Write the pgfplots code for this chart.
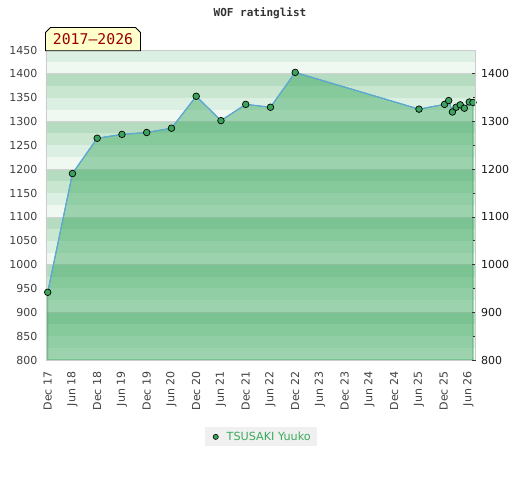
\documentclass[border=0pt]{standalone}
\usepackage{pgfplots}
\pgfplotsset{compat=1.18}
\usepackage{pgfplotstable}
\usepackage{fontspec}
\setmainfont{DejaVu Sans}
\newfontfamily\monofont{DejaVu Sans Mono}
\definecolor{s0}{HTML}{F0F8F2}
\definecolor{s1}{HTML}{DCEFE3}
\definecolor{s2}{HTML}{C8E6D0}
\definecolor{s3}{HTML}{B5DCC0}
\definecolor{gridgrey}{HTML}{D2D2D2}
\definecolor{areagreen}{HTML}{33A458}
\definecolor{edgegreen}{HTML}{3BA55D}
\definecolor{markgreen}{HTML}{3AA35C}
\definecolor{lineblue}{HTML}{5FA6DA}
\definecolor{legendgreen}{HTML}{3BAA5E}
\definecolor{labelyellow}{HTML}{FFFFCC}
\definecolor{darkred}{HTML}{990000}

\pgfplotstableread{
m r
0 942
6 1191
12 1265
18 1273
24 1277
30 1286
36 1353
42 1302
48 1336
54 1330
60 1403
90 1326
96.2 1336
97.2 1344
98.1 1320
99.0 1330
100.0 1335
101.0 1328
102.2 1341
103.1 1340
}\ratings

\begin{document}
\begin{tikzpicture}
\path (0,0) rectangle (520pt,480pt);
\node[font=\monofont\bfseries\fontsize{11}{13}\selectfont, text=black!80] at (260pt,467pt) {WOF ratinglist};
\begin{axis}[
  at={(46pt,120pt)}, anchor=south west, scale only axis,
  width=429.5pt, height=310pt,
  xmin=-0.41, xmax=103.7, ymin=800, ymax=1450,
  xtick={0,6,...,102},
  xticklabels={Dec 17,Jun 18,Dec 18,Jun 19,Dec 19,Jun 20,Dec 20,Jun 21,Dec 21,Jun 22,Dec 22,Jun 23,Dec 23,Jun 24,Dec 24,Jun 25,Dec 25,Jun 26},
  xticklabel style={rotate=90, anchor=east, font=\fontsize{11}{12}\selectfont, text=black!75},
  xticklabel shift=8pt,
  ytick={800,850,...,1450},
  yticklabel style={font=\fontsize{11}{12}\selectfont, text=black!75},
  yticklabel shift=5pt,
  major tick length=0pt,
  axis line style={draw=black!20},
  /pgf/number format/assume math mode=true,
  /pgf/number format/1000 sep={},
  scaled y ticks=false,
  axis on top,
  legend style={at={(0.5,-0.248)}, anchor=center, fill=black!6, draw=none,
    font=\fontsize{11.2}{13}\selectfont, text=legendgreen, inner xsep=4pt, inner ysep=2.5pt},
]
\pgfplotsforeachungrouped \k in {800,900,...,1400}{%
  \pgfmathtruncatemacro\ka{\k+25}%
  \pgfmathtruncatemacro\kb{\k+50}%
  \pgfmathtruncatemacro\kc{\k+75}%
  \pgfmathtruncatemacro\kd{\k+100}%
  \edef\tmp{%
    \noexpand\fill[s0] (axis cs:-5,\k) rectangle (axis cs:110,\ka);
    \noexpand\fill[s1] (axis cs:-5,\ka) rectangle (axis cs:110,\kb);
    \noexpand\fill[s2] (axis cs:-5,\kb) rectangle (axis cs:110,\kc);
    \noexpand\fill[s3] (axis cs:-5,\kc) rectangle (axis cs:110,\kd);
    \noexpand\draw[gridgrey, line width=0.8pt] (axis cs:-5,\k) -- (axis cs:110,\k);
  }%
  \tmp
}
\addplot[fill=areagreen, fill opacity=0.44, draw=edgegreen, line width=0.8pt, forget plot] table[x=m,y=r]{\ratings} \closedcycle;
\addplot[color=lineblue, line width=1.2pt, mark=*, mark size=3.3pt,
  mark options={fill=markgreen, draw=black, line width=0.7pt},
  legend image code/.code={\path[draw=none,fill=none] (-7pt,0) -- (9pt,0);\draw[fill=markgreen,draw=black,line width=0.6pt] (0,0) circle (2.6pt);}]
  table[x=m,y=r]{\ratings};
\addlegendentry{TSUSAKI Yuuko}
\end{axis}
\begin{axis}[
  at={(46pt,120pt)}, anchor=south west, scale only axis,
  width=429.5pt, height=310pt,
  xmin=-0.41, xmax=103.7, ymin=800, ymax=1450,
  axis x line=none, axis y line*=right,
  ytick={800,900,...,1400},
  minor ytick={850,950,...,1350},
  tick align=inside,
  major tick length=4pt, minor tick length=3pt,
  tick style={black!80, line width=0.8pt},
  yticklabel style={font=\fontsize{11}{12}\selectfont, text=black!90},
  yticklabel shift=2pt,
  axis line style={draw=black!20},
  /pgf/number format/assume math mode=true,
  /pgf/number format/1000 sep={},
  scaled y ticks=false,
]
\end{axis}
\draw[fill=labelyellow, draw=black, line width=0.8pt]
  (45.5pt,429.3pt) -- (45.5pt,447.5pt) -- (50.5pt,452.5pt) -- (135.5pt,452.5pt)
  -- (140.5pt,447.5pt) -- (140.5pt,429.3pt) -- cycle;
\node[font=\monofont\fontsize{14.8}{16}\selectfont, text=darkred] at (93pt,441pt) {2017–2026};
\end{tikzpicture}
\end{document}
